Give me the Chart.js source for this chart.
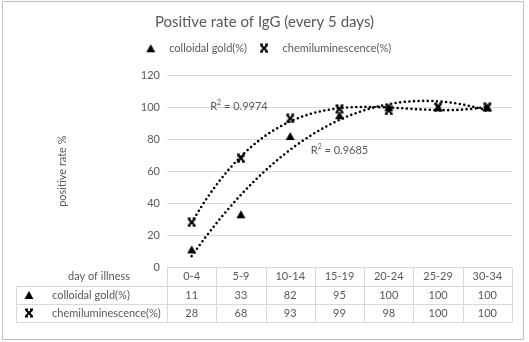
<!DOCTYPE html>
<html>
<head>
<meta charset="utf-8">
<script src="https://cdn.jsdelivr.net/npm/chart.js@4/dist/chart.umd.min.js"></script>
<style>
  html, body { margin: 0; padding: 0; background: #fff; }
  #wrap { width: 529px; height: 342px; position: relative; }
</style>
</head>
<body>
<div id="wrap"><canvas id="c" width="529" height="342"></canvas></div>
<script>
// ---- data ----
const days = ['0-4', '5-9', '10-14', '15-19', '20-24', '25-29', '30-34'];
const colloidalGold = [11, 33, 82, 95, 100, 100, 100];
const chemiluminescence = [28, 68, 93, 99, 98, 100, 100];
const seriesNames = ['colloidal gold(%)', 'chemiluminescence(%)'];
const yTicks = [0, 20, 40, 60, 80, 100, 120];
const rSquaredGold = '0.9685';
const rSquaredChemi = '0.9974';

const TEXT = '#595959';
const GRID = '#d9d9d9';
const FONT = 'Lato, "Open Sans", sans-serif';

// ---- cubic least-squares trendline ----
function polyFit(ys, order) {
  const n = order + 1;
  const A = Array.from({length: n}, () => new Array(n + 1).fill(0));
  ys.forEach((y, i) => {
    for (let r = 0; r < n; r++) {
      for (let c = 0; c < n; c++) A[r][c] += Math.pow(i, r + c);
      A[r][n] += y * Math.pow(i, r);
    }
  });
  for (let p = 0; p < n; p++) {
    let m = p;
    for (let r = p + 1; r < n; r++) if (Math.abs(A[r][p]) > Math.abs(A[m][p])) m = r;
    [A[p], A[m]] = [A[m], A[p]];
    for (let r = 0; r < n; r++) {
      if (r === p) continue;
      const f = A[r][p] / A[p][p];
      for (let c = p; c <= n; c++) A[r][c] -= f * A[p][c];
    }
  }
  return A.map((row, i) => row[n] / row[i]);
}
function trend(ys) {
  const k = polyFit(ys, 3);
  const pts = [];
  for (let i = 0; i <= 120; i++) {
    const x = i * (ys.length - 1) / 120;
    pts.push({x, y: k.reduce((s, c, j) => s + c * Math.pow(x, j), 0)});
  }
  return pts;
}

// ---- marker glyphs ----
function triangleMarker() {
  const c = document.createElement('canvas');
  c.width = 10; c.height = 10;
  const g = c.getContext('2d');
  g.fillStyle = '#000';
  g.beginPath();
  g.moveTo(5, 1); g.lineTo(9.5, 9); g.lineTo(0.5, 9); g.closePath();
  g.fill();
  return c;
}
function starMarker() {
  const c = document.createElement('canvas');
  c.width = 10; c.height = 10;
  const g = c.getContext('2d');
  g.strokeStyle = '#000';
  g.lineCap = 'butt';
  g.lineWidth = 2;
  g.beginPath();
  g.moveTo(1.8, 1.8); g.lineTo(8.2, 8.2);
  g.moveTo(8.2, 1.8); g.lineTo(1.8, 8.2);
  g.stroke();
  g.lineWidth = 1.4;
  g.beginPath();
  g.moveTo(1, 1.3); g.lineTo(4, 1.3);
  g.moveTo(6, 1.3); g.lineTo(9, 1.3);
  g.moveTo(1, 8.7); g.lineTo(4, 8.7);
  g.moveTo(6, 8.7); g.lineTo(9, 8.7);
  g.stroke();
  return c;
}
const triImg = triangleMarker();
const starImg = starMarker();

// ---- frame ----
const framePlugin = {
  id: 'frame',
  beforeDraw(chart) {
    const ctx = chart.ctx;
    ctx.save();
    ctx.fillStyle = '#fff';
    ctx.fillRect(0, 0, chart.width, chart.height);
    ctx.strokeStyle = '#bfbfbf';
    ctx.lineWidth = 1;
    ctx.strokeRect(2.5, 1.5, 521, 338);
    ctx.restore();
  }
};

// ---- data table under the plot ----
const tablePlugin = {
  id: 'dataTable',
  afterDraw(chart) {
    const ctx = chart.ctx;
    const xs = chart.scales.x;
    const left = xs.left, right = xs.right;
    const colW = (right - left) / days.length;
    const tableLeft = 16;
    const y0 = chart.chartArea.bottom;
    const rowH = [19, 18, 18];
    const rowTop = [y0, y0 + rowH[0], y0 + rowH[0] + rowH[1]];
    const bottom = rowTop[2] + rowH[2];
    const px = v => Math.round(v) + 0.5;

    ctx.save();
    ctx.strokeStyle = GRID;
    ctx.lineWidth = 1;
    ctx.beginPath();
    ctx.moveTo(left, px(y0)); ctx.lineTo(right, px(y0));
    [rowTop[1], rowTop[2], bottom].forEach(y => {
      ctx.moveTo(tableLeft, px(y)); ctx.lineTo(right, px(y));
    });
    ctx.moveTo(px(tableLeft), px(rowTop[1])); ctx.lineTo(px(tableLeft), px(bottom));
    for (let k = 0; k <= days.length; k++) {
      const x = px(left + k * colW);
      ctx.moveTo(x, px(y0)); ctx.lineTo(x, px(bottom));
    }
    ctx.stroke();

    ctx.fillStyle = TEXT;
    ctx.font = '11px ' + FONT;
    ctx.textBaseline = 'middle';
    const mid = r => rowTop[r] + rowH[r] / 2;

    ctx.textAlign = 'left';
    ctx.fillText('day of illness', 68, mid(0));
    ctx.fillText(seriesNames[0], 52, mid(1));
    ctx.fillText(seriesNames[1], 52, mid(2));
    ctx.drawImage(triImg, 29 - 5, Math.round(mid(1)) - 5);
    ctx.drawImage(starImg, 29 - 5, Math.round(mid(2)) - 5);

    ctx.textAlign = 'center';
    days.forEach((d, i) => {
      const cx = xs.getPixelForValue(i);
      ctx.fillText(d, cx, mid(0));
      ctx.fillText(String(colloidalGold[i]), cx, mid(1));
      ctx.fillText(String(chemiluminescence[i]), cx, mid(2));
    });
    ctx.restore();
  }
};

// ---- R² labels next to the trendlines ----
function drawR2(ctx, cx, cy, val) {
  ctx.font = '11px ' + FONT;
  const wR = ctx.measureText('R').width;
  const rest = ' = ' + val;
  const wRest = ctx.measureText(rest).width;
  ctx.font = '7px ' + FONT;
  const w2 = ctx.measureText('2').width;
  let x = cx - (wR + w2 + wRest) / 2;
  ctx.textAlign = 'left';
  ctx.textBaseline = 'middle';
  ctx.font = '11px ' + FONT;
  ctx.fillText('R', x, cy);
  x += wR;
  ctx.font = '7px ' + FONT;
  ctx.fillText('2', x, cy - 3.5);
  x += w2;
  ctx.font = '11px ' + FONT;
  ctx.fillText(rest, x, cy);
}
const r2Plugin = {
  id: 'r2labels',
  afterDatasetsDraw(chart) {
    const ctx = chart.ctx;
    const xt = chart.scales.xt, y = chart.scales.y;
    ctx.save();
    ctx.fillStyle = TEXT;
    drawR2(ctx, xt.getPixelForValue(0.96), y.getPixelForValue(100.6), rSquaredChemi);
    drawR2(ctx, xt.getPixelForValue(3.0), y.getPixelForValue(73), rSquaredGold);
    ctx.restore();
  }
};

const dotted = {
  type: 'line',
  xAxisID: 'xt',
  borderColor: '#000',
  borderWidth: 2.6,
  borderDash: [0, 4.6],
  borderCapStyle: 'round',
  pointRadius: 0,
  pointHoverRadius: 0,
  fill: false,
  tension: 0
};

new Chart(document.getElementById('c'), {
  type: 'line',
  data: {
    labels: days,
    datasets: [
      {
        label: seriesNames[0],
        data: colloidalGold,
        xAxisID: 'x',
        showLine: false,
        pointStyle: triImg,
        pointRadius: 5,
        borderColor: '#000',
        backgroundColor: '#000'
      },
      {
        label: seriesNames[1],
        data: chemiluminescence,
        xAxisID: 'x',
        showLine: false,
        pointStyle: starImg,
        pointRadius: 5,
        borderColor: '#000',
        backgroundColor: '#000'
      },
      Object.assign({label: 'trend-gold', data: trend(colloidalGold)}, dotted),
      Object.assign({label: 'trend-chemi', data: trend(chemiluminescence)}, dotted)
    ]
  },
  options: {
    responsive: false,
    animation: false,
    events: [],
    layout: { padding: 0 },
    plugins: {
      title: {
        display: true,
        text: 'Positive rate of IgG (every 5 days)',
        color: TEXT,
        font: { family: FONT, size: 15, weight: 'normal' },
        padding: { top: 13, bottom: 7.8 }
      },
      legend: {
        display: true,
        position: 'top',
        labels: {
          usePointStyle: true,
          pointStyleWidth: 26,
          padding: 4,
          color: TEXT,
          font: { family: FONT, size: 11 },
          filter: item => item.datasetIndex < 2
        }
      },
      tooltip: { enabled: false }
    },
    scales: {
      x: {
        type: 'category',
        position: 'bottom',
        offset: true,
        grid: { display: false },
        border: { display: false },
        ticks: { display: false },
        afterFit: s => { s.height = 75; }
      },
      xt: {
        type: 'linear',
        position: 'top',
        min: -0.5,
        max: 6.5,
        grid: { display: false },
        border: { display: false },
        ticks: { display: false },
        afterFit: s => { s.height = 11.5; }
      },
      y: {
        type: 'linear',
        position: 'left',
        min: 0,
        max: 120,
        afterBuildTicks: s => { s.ticks = yTicks.map(v => ({value: v})); },
        grid: { color: GRID, lineWidth: 1, drawTicks: false },
        border: { display: false },
        ticks: {
          color: TEXT,
          padding: 7,
          font: { family: FONT, size: 11 }
        },
        title: {
          display: true,
          text: 'positive rate %',
          color: TEXT,
          font: { family: FONT, size: 11 },
          padding: { top: 56, bottom: 0 }
        },
        afterFit: s => { s.width = 167; }
      },
      yR: {
        type: 'linear',
        position: 'right',
        grid: { display: false },
        border: { display: false },
        ticks: { display: false },
        afterFit: s => { s.width = 17; }
      }
    }
  },
  plugins: [framePlugin, tablePlugin, r2Plugin]
});
</script>
</body>
</html>
